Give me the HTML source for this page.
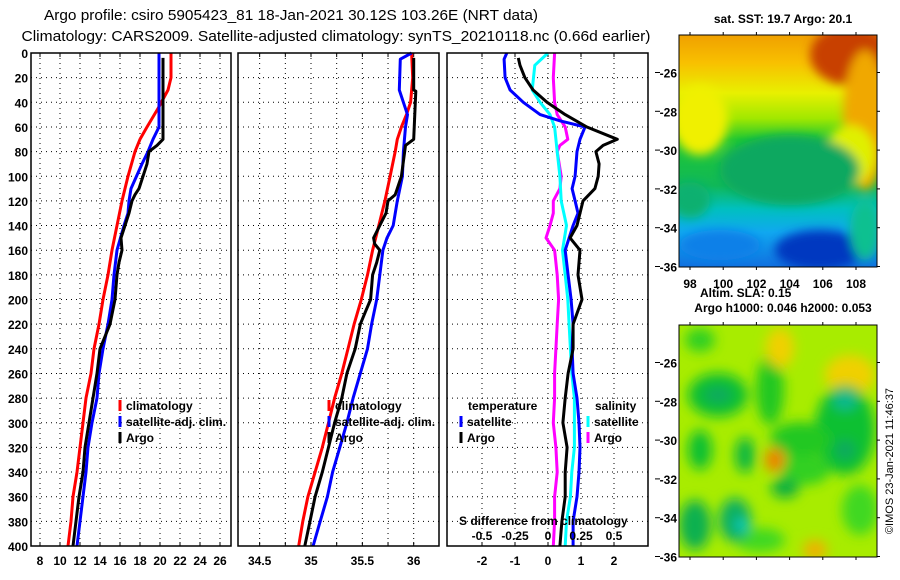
<!DOCTYPE html>
<html><head><meta charset="utf-8">
<style>
body{margin:0;background:#fff;}
svg{display:block;font-family:"Liberation Sans",sans-serif;font-weight:bold;}
</style></head>
<body>
<svg id="c" width="900" height="580" viewBox="0 0 900 580" xmlns="http://www.w3.org/2000/svg">
<defs>
<filter id="blur1" x="-20%" y="-20%" width="140%" height="140%"><feGaussianBlur stdDeviation="5"/></filter>
<filter id="blur2" x="-20%" y="-20%" width="140%" height="140%"><feGaussianBlur stdDeviation="6"/></filter>
<linearGradient id="sstg" x1="0" y1="0" x2="0" y2="1">
<stop offset="0" stop-color="#f0a000"/><stop offset="0.12" stop-color="#f8c000"/>
<stop offset="0.25" stop-color="#e8f000"/><stop offset="0.36" stop-color="#a0e800"/>
<stop offset="0.45" stop-color="#20c830"/><stop offset="0.65" stop-color="#10b858"/>
<stop offset="0.75" stop-color="#00c0c0"/><stop offset="0.85" stop-color="#10a8f0"/>
<stop offset="1" stop-color="#1070e0"/></linearGradient>
<clipPath id="m1c"><rect x="679" y="35" width="198" height="232"/></clipPath>
<clipPath id="m2c"><rect x="679" y="325" width="198" height="232"/></clipPath>
</defs>
<text x="291" y="20" text-anchor="middle" font-size="15" font-weight="normal" textLength="494" lengthAdjust="spacingAndGlyphs">Argo profile: csiro 5905423_81 18-Jan-2021 30.12S 103.26E (NRT data)</text>
<text x="336" y="41" text-anchor="middle" font-size="15" font-weight="normal" textLength="629" lengthAdjust="spacingAndGlyphs">Climatology: CARS2009. Satellite-adjusted climatology: synTS_20210118.nc (0.66d earlier)</text>

<g clip-path="url(#m1c)">
<rect x="679" y="35" width="198" height="232" fill="url(#sstg)"/>
<g filter="url(#blur1)">
<ellipse cx="850" cy="55" rx="40" ry="30" fill="#c84000"/>
<ellipse cx="865" cy="120" rx="22" ry="70" fill="#f0a800"/>
<ellipse cx="700" cy="120" rx="28" ry="35" fill="#f0f000"/>
<ellipse cx="850" cy="155" rx="25" ry="30" fill="#e0f000"/>
<ellipse cx="790" cy="170" rx="70" ry="35" fill="#10a860"/>
<ellipse cx="690" cy="200" rx="20" ry="18" fill="#10b070"/>
<ellipse cx="820" cy="250" rx="45" ry="20" fill="#0038c0"/>
<ellipse cx="720" cy="245" rx="40" ry="15" fill="#1080e8"/>
<ellipse cx="865" cy="230" rx="15" ry="30" fill="#10c090"/>
</g></g>
<rect x="679" y="35" width="198" height="232" fill="none" stroke="#000"/>

<g clip-path="url(#m2c)">
<rect x="679" y="325" width="198" height="232" fill="#a8ec00"/>
<g filter="url(#blur2)">
<ellipse cx="718" cy="395" rx="30" ry="22" fill="#10c030"/>
<ellipse cx="718" cy="395" rx="14" ry="8" fill="#10a860"/>
<ellipse cx="770" cy="390" rx="14" ry="35" fill="#20c820"/>
<ellipse cx="780" cy="348" rx="14" ry="20" fill="#f0d000"/>
<ellipse cx="850" cy="375" rx="25" ry="20" fill="#f0d000"/>
<ellipse cx="845" cy="430" rx="30" ry="45" fill="#10c030"/>
<ellipse cx="845" cy="400" rx="12" ry="10" fill="#10b890"/>
<ellipse cx="845" cy="450" rx="10" ry="10" fill="#10a860"/>
<ellipse cx="800" cy="440" rx="30" ry="18" fill="#20c820"/>
<ellipse cx="805" cy="470" rx="25" ry="15" fill="#30d020"/>
<ellipse cx="700" cy="340" rx="15" ry="12" fill="#30d020"/>
<ellipse cx="860" cy="510" rx="18" ry="25" fill="#40d820"/>
<ellipse cx="760" cy="540" rx="25" ry="12" fill="#40d820"/>
<ellipse cx="775" cy="460" rx="10" ry="12" fill="#f08000"/>
<ellipse cx="745" cy="455" rx="10" ry="18" fill="#10b840"/>
<ellipse cx="785" cy="488" rx="14" ry="10" fill="#10b040"/>
<ellipse cx="735" cy="520" rx="16" ry="22" fill="#10b060"/>
<ellipse cx="742" cy="525" rx="6" ry="6" fill="#00d0d0"/>
<ellipse cx="695" cy="525" rx="16" ry="25" fill="#10b050"/>
<ellipse cx="815" cy="550" rx="12" ry="10" fill="#f0b000"/>
<ellipse cx="700" cy="450" rx="12" ry="20" fill="#10c030"/>
</g></g>
<rect x="679" y="325" width="198" height="232" fill="none" stroke="#000"/>

<text x="783" y="23" text-anchor="middle" font-size="12">sat. SST: 19.7 Argo: 20.1</text>
<text x="700" y="297" font-size="12">Altim. SLA: 0.15</text>
<text x="783" y="312" text-anchor="middle" font-size="12">Argo h1000: 0.046 h2000: 0.053</text>
<text transform="translate(893,461) rotate(-90)" text-anchor="middle" font-size="11" font-weight="normal">©IMOS 23-Jan-2021 11:46:37</text>
<g id="axes"></g>
</svg>
<script>
// ---- data ----
const depthTicks=[0,20,40,60,80,100,120,140,160,180,200,220,240,260,280,300,320,340,360,380,400];
const tempTicks=[8,10,12,14,16,18,20,22,24,26];
const salTicks=[34.5,35,35.5,36];
const dTTicks=[-2,-1,0,1,2];
const dSTicks=[-0.5,-0.25,0,0.25,0.5];
const dSTickLabels=["-0.5","-0.25","0","0.25","0.5"];
const lonTicks=[98,100,102,104,106,108];
const latTicks=[-26,-28,-30,-32,-34,-36];

const climTD=[0,20,30,45,60,70,80,100,120,140,160,180,200,220,240,260,280,300,320,340,360,380,400];
const climT=[21.1,21.1,20.8,19.8,18.7,18,17.5,16.8,16.2,15.7,15.2,14.8,14.3,13.9,13.4,13.1,12.6,12.3,12,11.7,11.3,11.1,10.8];
const satTD=[0,60,70,80,90,110,120,130,140,160,180,200,220,240,260,280,300,320,340,360,380,400];
const satT=[19.9,19.9,19.3,18.8,18.2,17.1,16.9,16.8,16.4,15.7,15.4,15.2,14.8,14.3,13.9,13.7,13.2,12.8,12.6,12.3,12,11.7];
const argoTD=[4,70,75,80,90,100,110,115,120,130,140,150,160,170,180,200,220,240,260,280,300,320,340,360,380,400];
const argoT=[20.3,20.3,19.7,18.9,18.7,18.3,17.9,17.5,17.2,16.9,16.5,16.1,16.2,15.9,15.7,15.5,15,14,13.7,13.3,12.9,12.5,12.3,11.9,11.6,11.3];

const climSD=[0,20,40,50,60,70,80,100,120,140,160,180,200,220,240,260,280,300,320,340,360,380,400];
const climS=[35.98,35.99,35.97,35.93,35.88,35.84,35.82,35.77,35.72,35.66,35.6,35.55,35.49,35.42,35.36,35.3,35.23,35.17,35.11,35.04,34.97,34.92,34.88];
const satSD=[0,5,30,40,50,60,80,100,120,140,150,160,180,200,220,240,260,280,300,320,340,360,380,400];
const satS=[35.98,35.87,35.86,35.9,35.94,35.92,35.9,35.89,35.84,35.8,35.74,35.7,35.67,35.64,35.59,35.55,35.48,35.41,35.35,35.28,35.21,35.16,35.09,35.02];
const argoSD=[4,30,31,70,75,100,115,120,130,140,150,155,160,170,180,200,210,220,240,260,280,300,320,340,360,380,400];
const argoS=[36.0,36.0,36.02,36.0,35.92,35.88,35.82,35.75,35.73,35.67,35.61,35.62,35.67,35.64,35.6,35.58,35.53,35.48,35.43,35.35,35.3,35.23,35.17,35.11,35.04,34.99,34.94];

const dTsatD=[0,5,20,30,40,50,55,60,70,80,100,110,120,130,140,160,180,200,220,240,260,280,300,320,340,360,380,400];
const dTsat=[-1.25,-1.33,-1.3,-1.15,-0.75,-0.24,0.36,1.12,0.97,0.88,0.82,0.73,0.82,0.91,0.76,0.52,0.61,0.7,0.76,0.73,0.76,0.88,0.94,0.97,0.94,0.88,0.76,0.76];
const dTargoD=[4,10,20,30,40,50,60,70,75,80,90,100,110,120,130,140,150,160,180,200,220,240,260,280,300,320,340,360,380,400];
const dTargo=[-0.9,-0.85,-0.7,-0.45,-0.03,0.52,1.18,2.1,1.67,1.45,1.55,1.52,1.42,1.06,0.97,0.88,0.67,0.97,0.91,1.03,0.76,0.76,0.61,0.52,0.45,0.58,0.52,0.52,0.42,0.36];
const dSsatD=[0,10,30,40,50,60,80,100,120,140,160,180,200,220,240,260,280,300,320,340,360,380,400];
const dSsat=[0,-0.1,-0.12,-0.06,0.015,0.05,0.07,0.09,0.1,0.14,0.11,0.13,0.15,0.16,0.17,0.18,0.2,0.2,0.2,0.18,0.17,0.14,0.13];
const dSargoD=[0,20,40,50,60,70,75,80,100,110,120,130,140,150,160,180,200,220,240,260,280,300,320,340,360,380,400];
const dSargo=[0.05,0.04,0.05,0.07,0.13,0.15,0.09,0.07,0.1,0.09,0.04,0.04,0.015,-0.015,0.05,0.07,0.08,0.07,0.06,0.05,0.05,0.04,0.06,0.07,0.05,0.05,0.04];

// ---- scales ----
const Y0=53,Y1=546;
const yD=d=>Y0+(d/400)*(Y1-Y0);
const xT=t=>40+(t-8)*10;
const xS=s=>311+(s-35)*102.7;
const xDT=t=>548+t*33;
const xDS=s=>548+s*132;
const xLon=l=>690+(l-98)*16.6;
const yLat1=l=>72.5+(-26-l)*19.4;
const yLat2=l=>362.5+(-26-l)*19.4;

const NS="http://www.w3.org/2000/svg";
const g=document.getElementById('axes');
function mk(tag,attrs,parent){const e=document.createElementNS(NS,tag);for(const k in attrs)e.setAttribute(k,attrs[k]);(parent||g).appendChild(e);return e;}

const panels=[{x0:31,x1:231,name:'temperature'},{x0:238,x1:439,name:'salinity'},{x0:447,x1:648,name:'difference'}];
panels.forEach(p=>{
  const pg=mk('g',{});
  
  
  depthTicks.forEach(d=>{ if(d>0&&d<400){const l=mk('line',{x1:p.x0,x2:p.x1,y1:yD(d),y2:yD(d),stroke:'#000','stroke-width':1,'stroke-dasharray':'1,4'},pg);
    
    }
  });
  p.g=pg;
});
function vgrid(p,vals,fx){vals.forEach(v=>{const x=fx(v);const l=mk('line',{x1:x,x2:x,y1:Y0,y2:Y1,stroke:'#000','stroke-width':1,'stroke-dasharray':'1,4'},p.g);
  
  
  mk('line',{x1:x,x2:x,y1:Y0,y2:Y0+4,stroke:'#000'},p.g);mk('line',{x1:x,x2:x,y1:Y1,y2:Y1-4,stroke:'#000'},p.g);});}
vgrid(panels[0],tempTicks,xT);
vgrid(panels[1],salTicks.concat([34.75,35.25,35.75,36.25].filter(v=>xS(v)<439)),xS);
vgrid(panels[2],dTTicks,xDT);

function tickLabels(vals,fx,labels,y,name){vals.forEach((v,i)=>{const t=mk('text',{x:fx(v),y:y,'text-anchor':'middle','font-size':12});t.textContent=labels?labels[i]:String(v);
  
  });}
tickLabels(tempTicks,xT,null,565,'temperature-tick-label');
tickLabels(salTicks,xS,null,565,'salinity-tick-label');
tickLabels(dTTicks,xDT,null,565,'temperature-difference-tick-label');
tickLabels(dSTicks,xDS,dSTickLabels,540,'salinity-difference-tick-label');
depthTicks.forEach(d=>{const t=mk('text',{x:28,y:yD(d)+5,'text-anchor':'end','font-size':12});t.textContent=String(d);
  
  });

function line(p,ds,vs,fx,color,name){
  const pts=ds.map((d,i)=>fx(vs[i]).toFixed(1)+','+yD(d).toFixed(1)).join(' ');
  const l=mk('polyline',{points:pts,fill:'none',stroke:color,'stroke-width':3,'stroke-linejoin':'round'},p.g);
  
  
}
line(panels[0],climTD,climT,xT,'#ff0000','climatology-temperature-line');
line(panels[0],satTD,satT,xT,'#0000ff','satellite-adj-temperature-line');
line(panels[0],argoTD,argoT,xT,'#000000','argo-temperature-line');
line(panels[1],climSD,climS,xS,'#ff0000','climatology-salinity-line');
line(panels[1],satSD,satS,xS,'#0000ff','satellite-adj-salinity-line');
line(panels[1],argoSD,argoS,xS,'#000000','argo-salinity-line');
line(panels[2],dSargoD,dSargo,xDS,'#ff00ff','argo-salinity-difference-line');
line(panels[2],dSsatD,dSsat,xDS,'#00ffff','satellite-salinity-difference-line');
line(panels[2],dTsatD,dTsat,xDT,'#0000ff','satellite-temperature-difference-line');
line(panels[2],dTargoD,dTargo,xDT,'#000000','argo-temperature-difference-line');

panels.forEach(p=>{const r=mk('rect',{x:p.x0,y:Y0,width:p.x1-p.x0,height:Y1-Y0,fill:'none',stroke:'#000','stroke-width':1.5},p.g);
  
  });

function legend(x,y,color,label,name){
  const lg=mk('g',{});
  
  
  mk('rect',{x:x-1.5,y:y-10,width:3,height:11,fill:color},lg);
  const t=mk('text',{x:x+6,y:y,'font-size':12},lg);t.textContent=label;
}
legend(120,410,'#ff0000','climatology','legend-climatology');
legend(120,426,'#0000ff','satellite-adj. clim.','legend-satellite-adj');
legend(120,442,'#000000','Argo','legend-argo');
legend(329,410,'#ff0000','climatology','legend-climatology-salinity');
legend(329,426,'#0000ff','satellite-adj. clim.','legend-satellite-adj-salinity');
legend(329,442,'#000000','Argo','legend-argo-salinity');
legend(461,426,'#0000ff','satellite','legend-temperature-satellite');
legend(461,442,'#000000','Argo','legend-temperature-argo');
legend(588,426,'#00ffff','satellite','legend-salinity-satellite');
legend(588,442,'#ff00ff','Argo','legend-salinity-argo');
let t=mk('text',{x:468,y:410,'font-size':12});t.textContent='temperature';


t=mk('text',{x:595,y:410,'font-size':12});t.textContent='salinity';


t=mk('text',{x:459,y:525,'font-size':12});t.textContent='S difference from climatology';



// map axes
lonTicks.forEach(l=>{const x=xLon(l);
  mk('line',{x1:x,x2:x,y1:35,y2:32,stroke:'#000'});mk('line',{x1:x,x2:x,y1:267,y2:270,stroke:'#000'});
  mk('line',{x1:x,x2:x,y1:325,y2:322,stroke:'#000'});mk('line',{x1:x,x2:x,y1:557,y2:560,stroke:'#000'});
  const tx=mk('text',{x:x,y:288,'text-anchor':'middle','font-size':12});tx.textContent=String(l);
  
  });
latTicks.forEach(l=>{[yLat1(l),yLat2(l)].forEach(y=>{
  mk('line',{x1:877,x2:880,y1:y,y2:y,stroke:'#000'});mk('line',{x1:655,x2:660,y1:y,y2:y,stroke:'#000'});
  const tx=mk('text',{x:677,y:y+5,'text-anchor':'end','font-size':12});tx.textContent='-'+String(Math.abs(l));
  
  });});
</script>
</body></html>
